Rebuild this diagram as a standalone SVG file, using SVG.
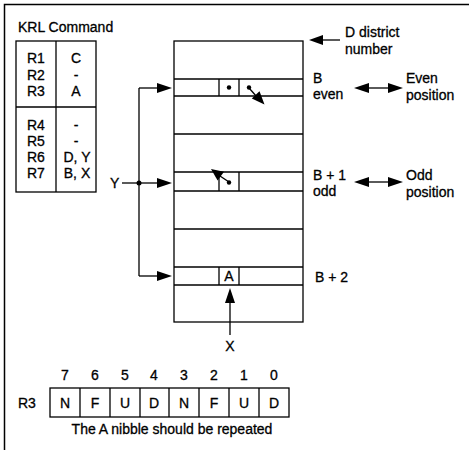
<svg xmlns="http://www.w3.org/2000/svg" width="469" height="450" viewBox="0 0 469 450">
<style>
text{font-family:"Liberation Sans",Arial,sans-serif;font-size:14px;fill:#000;stroke:#000;stroke-width:0.3}
.m{text-anchor:middle}
.ln{stroke:#000;stroke-width:1.3;fill:none}
.bx{stroke:#000;stroke-width:1.3;fill:#fff}
.hd{fill:#000;stroke:none}
</style>
<rect x="4.5" y="4.5" width="470" height="460" fill="#fff" stroke="#000" stroke-width="1.5"/>

<g id="krl">
<text x="18" y="32">KRL Command</text>
<rect class="bx" x="16" y="41" width="80" height="151"/>
<line class="ln" x1="56" y1="41" x2="56" y2="192"/>
<line class="ln" x1="16" y1="107" x2="96" y2="107"/>
<text x="27" y="63">R1</text><text class="m" x="76" y="63">C</text>
<text x="27" y="80">R2</text><text class="m" x="76" y="80">-</text>
<text x="27" y="96">R3</text><text class="m" x="76" y="96">A</text>
<text x="27" y="130">R4</text><text class="m" x="76" y="130">-</text>
<text x="27" y="146">R5</text><text class="m" x="76" y="146">-</text>
<text x="27" y="162">R6</text><text class="m" x="77" y="162">D, Y</text>
<text x="27" y="178">R7</text><text class="m" x="77" y="178">B, X</text>
</g>

<g id="memory">
<rect class="bx" x="174" y="41" width="129" height="281"/>
<line class="ln" x1="174" y1="79" x2="303" y2="79"/>
<line class="ln" x1="174" y1="96" x2="303" y2="96"/>
<line class="ln" x1="174" y1="134" x2="303" y2="134"/>
<line class="ln" x1="174" y1="172" x2="303" y2="172"/>
<line class="ln" x1="174" y1="191" x2="303" y2="191"/>
<line class="ln" x1="174" y1="229" x2="303" y2="229" stroke-width="1.8"/>
<line class="ln" x1="174" y1="267" x2="303" y2="267"/>
<line class="ln" x1="174" y1="285" x2="303" y2="285"/>
<line class="ln" x1="219" y1="79" x2="219" y2="96"/>
<line class="ln" x1="239" y1="79" x2="239" y2="96"/>
<line class="ln" x1="219" y1="172" x2="219" y2="191"/>
<line class="ln" x1="239" y1="172" x2="239" y2="191"/>
<line class="ln" x1="219" y1="267" x2="219" y2="285"/>
<line class="ln" x1="239" y1="267" x2="239" y2="285"/>
<circle cx="229" cy="87.5" r="2.2"/>
<circle cx="249" cy="87.5" r="2.2"/>
<circle cx="229" cy="182.5" r="2.2"/>
<text class="m" x="229" y="281">A</text>
</g>

<g id="labels">
<text x="345" y="37">D district</text>
<text x="345" y="54">number</text>
<text x="313" y="83">B</text>
<text x="313" y="99">even</text>
<text x="406" y="83">Even</text>
<text x="406" y="100">position</text>
<text x="313" y="180">B + 1</text>
<text x="313" y="196">odd</text>
<text x="406" y="180">Odd</text>
<text x="406" y="197">position</text>
<text x="315" y="282">B + 2</text>
<text x="110" y="188">Y</text>
<text class="m" x="230" y="351">X</text>
</g>

<g id="register">
<text class="m" x="65" y="380">7</text>
<text class="m" x="95" y="380">6</text>
<text class="m" x="125" y="380">5</text>
<text class="m" x="154" y="380">4</text>
<text class="m" x="184" y="380">3</text>
<text class="m" x="214" y="380">2</text>
<text class="m" x="244" y="380">1</text>
<text class="m" x="274" y="380">0</text>
<text x="18" y="408">R3</text>
<rect class="bx" x="50" y="388" width="239" height="29"/>
<line class="ln" x1="80" y1="388" x2="80" y2="417"/>
<line class="ln" x1="110" y1="388" x2="110" y2="417"/>
<line class="ln" x1="140" y1="388" x2="140" y2="417"/>
<line class="ln" x1="169" y1="388" x2="169" y2="417"/>
<line class="ln" x1="199" y1="388" x2="199" y2="417"/>
<line class="ln" x1="229" y1="388" x2="229" y2="417"/>
<line class="ln" x1="259" y1="388" x2="259" y2="417"/>
<text class="m" x="65" y="408">N</text>
<text class="m" x="95" y="408">F</text>
<text class="m" x="125" y="408">U</text>
<text class="m" x="154" y="408">D</text>
<text class="m" x="184" y="408">N</text>
<text class="m" x="214" y="408">F</text>
<text class="m" x="244" y="408">U</text>
<text class="m" x="274" y="408">D</text>
<text class="m" x="172" y="434">The A nibble should be repeated</text>
</g>

<g id="connectors">
<line class="ln" x1="139" y1="88" x2="139" y2="276"/>
<line class="ln" x1="122" y1="183" x2="139" y2="183"/>
<circle cx="139" cy="183" r="2.5"/>
<line class="ln" x1="139" y1="88" x2="160" y2="88"/>
<polygon class="hd" points="172,88 157,83 157,93"/>
<line class="ln" x1="139" y1="183" x2="160" y2="183"/>
<polygon class="hd" points="172,183 157,178 157,188"/>
<line class="ln" x1="139" y1="276" x2="160" y2="276"/>
<polygon class="hd" points="172,276 157,271 157,281"/>
<line class="ln" x1="340" y1="40" x2="320" y2="40"/>
<polygon class="hd" points="309,40 323,35 323,45"/>
<line class="ln" x1="366" y1="88" x2="391" y2="88"/>
<polygon class="hd" points="354,88 369,83 369,93"/>
<polygon class="hd" points="403,88 388,83 388,93"/>
<line class="ln" x1="366" y1="182" x2="391" y2="182"/>
<polygon class="hd" points="354,182 369,177 369,187"/>
<polygon class="hd" points="403,182 388,177 388,187"/>
<line class="ln" x1="230" y1="335" x2="230" y2="300"/>
<polygon class="hd" points="230,288 225,303 235,303"/>
<line class="ln" x1="249" y1="88" x2="257" y2="97"/>
<polygon class="hd" points="264.5,104.5 251.8,98.5 259.5,91.3"/>
<line class="ln" x1="229" y1="182" x2="220" y2="176"/>
<polygon class="hd" points="211,169 224,171.7 217.6,180.5"/>
</g>
</svg>
